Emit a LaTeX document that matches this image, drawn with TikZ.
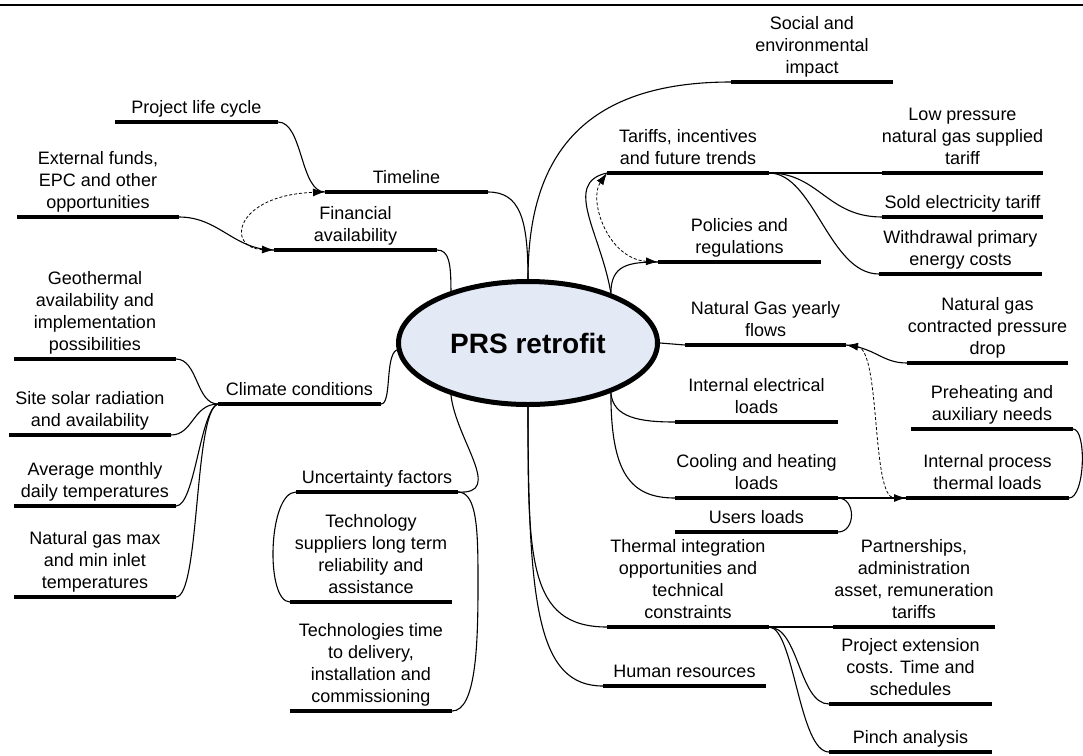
\documentclass[tikz,border=0pt]{standalone}
\usepackage{fontspec}
\setmainfont{Liberation Sans}
\usetikzlibrary{shapes.geometric,arrows.meta,backgrounds}
\definecolor{prsfill}{RGB}{227,234,246}

% topic: name, left x, right x, bar y, caption
\newcommand\mmtopic[5]{%
  \node[topicbar, minimum width={(#3-#2)*1pt}] (#1) at ({(#2+#3)/2},#4) {};
  \node[lbl] (#1-txt) at ([yshift=6.5pt]#1.north) {#5};
}

\begin{document}
\begin{tikzpicture}[x=1pt,y=-1pt,
  topicbar/.style={rectangle, fill=black, draw=none, inner sep=0pt, outer sep=0pt, minimum height=4.5pt},
  lbl/.style={anchor=south, inner sep=0pt, align=center, font=\fontsize{18}{22}\selectfont, text depth=0pt},
  conn/.style={line width=1.1pt},
  reltip/.tip={Latex[length=12pt,width=8pt]},
  rel/.style={line width=0.8pt, dash pattern=on 3pt off 2pt, arrows={reltip-reltip}},
  centre/.style={ellipse, draw=black, line width=5pt, fill=prsfill,
    minimum width=259pt, minimum height=123pt, inner sep=0pt,
    font=\fontsize{28}{32}\selectfont\bfseries}]

\useasboundingbox (0,0) rectangle (1083,755);

% header rule
\coordinate (ruleL) at (0,5);
\coordinate (ruleR) at (1083,5);
\draw[line width=2.5pt] (ruleL) -- (ruleR);

% central topic
\node[centre] (prs) at (528,343) {PRS retrofit};

% left branches
\mmtopic{plc}{115}{278}{122}{Project life cycle}
\mmtopic{timeline}{325}{488}{192}{Timeline}
\mmtopic{extfunds}{17}{179}{217}{External funds,\\EPC and other\\opportunities}
\mmtopic{financial}{274}{437}{250}{Financial\\availability}
\mmtopic{geo}{14}{176}{359}{Geothermal\\availability and\\implementation\\possibilities}
\mmtopic{climate}{218}{381}{404}{Climate conditions}
\mmtopic{solar}{9}{171}{435}{Site solar radiation\\and availability}
\mmtopic{avg}{14}{176}{506}{Average monthly\\daily temperatures}
\mmtopic{ngmax}{14}{176}{597}{Natural gas max\\and min inlet\\temperatures}
\mmtopic{uncert}{296}{458}{492}{Uncertainty factors}
\mmtopic{techsup}{290}{452}{602}{Technology\\suppliers long term\\reliability and\\assistance}
\mmtopic{techtime}{290}{452}{711}{Technologies time\\to delivery,\\installation and\\commissioning}

% right branches
\mmtopic{social}{731}{893}{82}{Social and\\environmental\\impact}
\mmtopic{tariffs}{607}{769}{173}{Tariffs, incentives\\and future trends}
\mmtopic{lowp}{882}{1043}{173}{Low pressure\\natural gas supplied\\tariff}
\mmtopic{sold}{882}{1043}{217}{Sold electricity tariff}
\mmtopic{withdraw}{879}{1042}{274}{Withdrawal primary\\energy costs}
\mmtopic{policies}{658}{821}{262}{Policies and\\regulations}
\mmtopic{ngflows}{685}{846}{345}{Natural Gas yearly\\flows}
\mmtopic{pdrop}{907}{1068}{363}{Natural gas\\contracted pressure\\drop}
\mmtopic{intelec}{675}{838}{422}{Internal electrical\\loads}
\mmtopic{preheat}{911}{1073}{429}{Preheating and\\auxiliary needs}
\mmtopic{cooling}{675}{838}{498}{Cooling and heating\\loads}
\mmtopic{intproc}{906}{1069}{498}{Internal process\\thermal loads}
\mmtopic{users}{675}{838}{532}{Users loads}
\mmtopic{thermal}{607}{769}{627}{Thermal integration\\opportunities and\\technical\\constraints}
\mmtopic{partner}{833}{995}{627}{Partnerships,\\administration\\asset, remuneration\\tariffs}
\mmtopic{humanres}{603}{766}{686}{Human resources}
\mmtopic{projext}{829}{992}{704}{Project extension\\costs. Time and\\schedules}
\mmtopic{pinch}{829}{992}{752}{Pinch analysis}

\coordinate (utbend) at (478,585);

\begin{scope}[on background layer]
  % branches from the central topic
  \draw[conn] (timeline.east) .. controls +(32,0) and +(0,-60) .. (prs.north);
  \draw[conn] (social.west) .. controls +(-160,0) and +(0,-110) .. (prs.north);
  \draw[conn] (financial.east) .. controls +(12,0) and +(0,-28) .. (prs.146);
  \draw[conn] (climate.east) .. controls +(11,0) and +(-12,6) .. (prs.183);
  \draw[conn] (uncert.east) .. controls +(47,3) and +(5,45) .. (prs.214);
  \draw[conn] (prs.31) .. controls +(-10,-60) and +(-45,10) .. (tariffs.west);
  \draw[conn] (prs.31) .. controls +(0,-28) and +(-30,0) .. (policies.west);
  \draw[conn] (prs.east) -- (ngflows.west);
  \draw[conn] (prs.-31) .. controls +(2,25) and +(-35,0) .. (intelec.west);
  \draw[conn] (prs.-31) .. controls +(0,80) and +(-45,0) .. (cooling.west);
  \draw[conn] (prs.south) .. controls +(0,150) and +(-80,0) .. (thermal.west);
  \draw[conn] (prs.south) .. controls +(0,200) and +(-65,0) .. (humanres.west);

  % sub-branches, left
  \draw[conn] (plc.east) .. controls +(25,0) and +(-25,0) .. (timeline.west);
  \draw[conn] (extfunds.east) .. controls +(40,0) and +(-40,0) .. (financial.west);
  \draw[conn] (climate.west) .. controls +(-22,0) and +(22,0) .. (geo.east);
  \draw[conn] (climate.west) .. controls +(-25,0) and +(22,0) .. (solar.east);
  \draw[conn] (climate.west) .. controls +(-18,6) and +(19,0) .. (avg.east);
  \draw[conn] (climate.west) .. controls +(-24,6) and +(24,0) .. (ngmax.east);
  \draw[conn] (uncert.west) .. controls +(-28,0) and +(-25,0) .. (techsup.west);
  \draw[conn] (uncert.east) .. controls +(20,0) and +(0,-50) .. (utbend)
                            .. controls +(0,60) and +(24,0) .. (techtime.east);

  % sub-branches, right
  \draw[conn] (tariffs.east) -- (lowp.west);
  \draw[conn] (tariffs.east) .. controls +(50,0) and +(-55,0) .. (sold.west);
  \draw[conn] (tariffs.east) .. controls +(45,0) and +(-50,0) .. (withdraw.west);
  \draw[conn] (pdrop.west) .. controls +(-25,0) and +(30,3) .. (ngflows.east);
  \draw[conn] (cooling.east) -- (intproc.west);
  \draw[conn] (cooling.east) .. controls +(18,0) and +(18,0) .. (users.east);
  \draw[conn] (preheat.east) .. controls +(14,0) and +(16,0) .. (intproc.east);
  \draw[conn] (thermal.east) -- (partner.west);
  \draw[conn] (thermal.east) .. controls +(30,0) and +(-30,0) .. (projext.west);
  \draw[conn] (thermal.east) .. controls +(25,0) and +(-30,0) .. (pinch.west);

  % relationships
  \draw[rel] (financial.west) .. controls +(-49,-2) and +(-90,3) .. (timeline.west);
  \draw[rel] (policies.west) .. controls +(-50,-3) and +(-19,27) .. (tariffs.west);
  \draw[rel] (ngflows.east) .. controls +(35,5) and +(-35,0) .. (intproc.west);
\end{scope}
\end{tikzpicture}
\end{document}
